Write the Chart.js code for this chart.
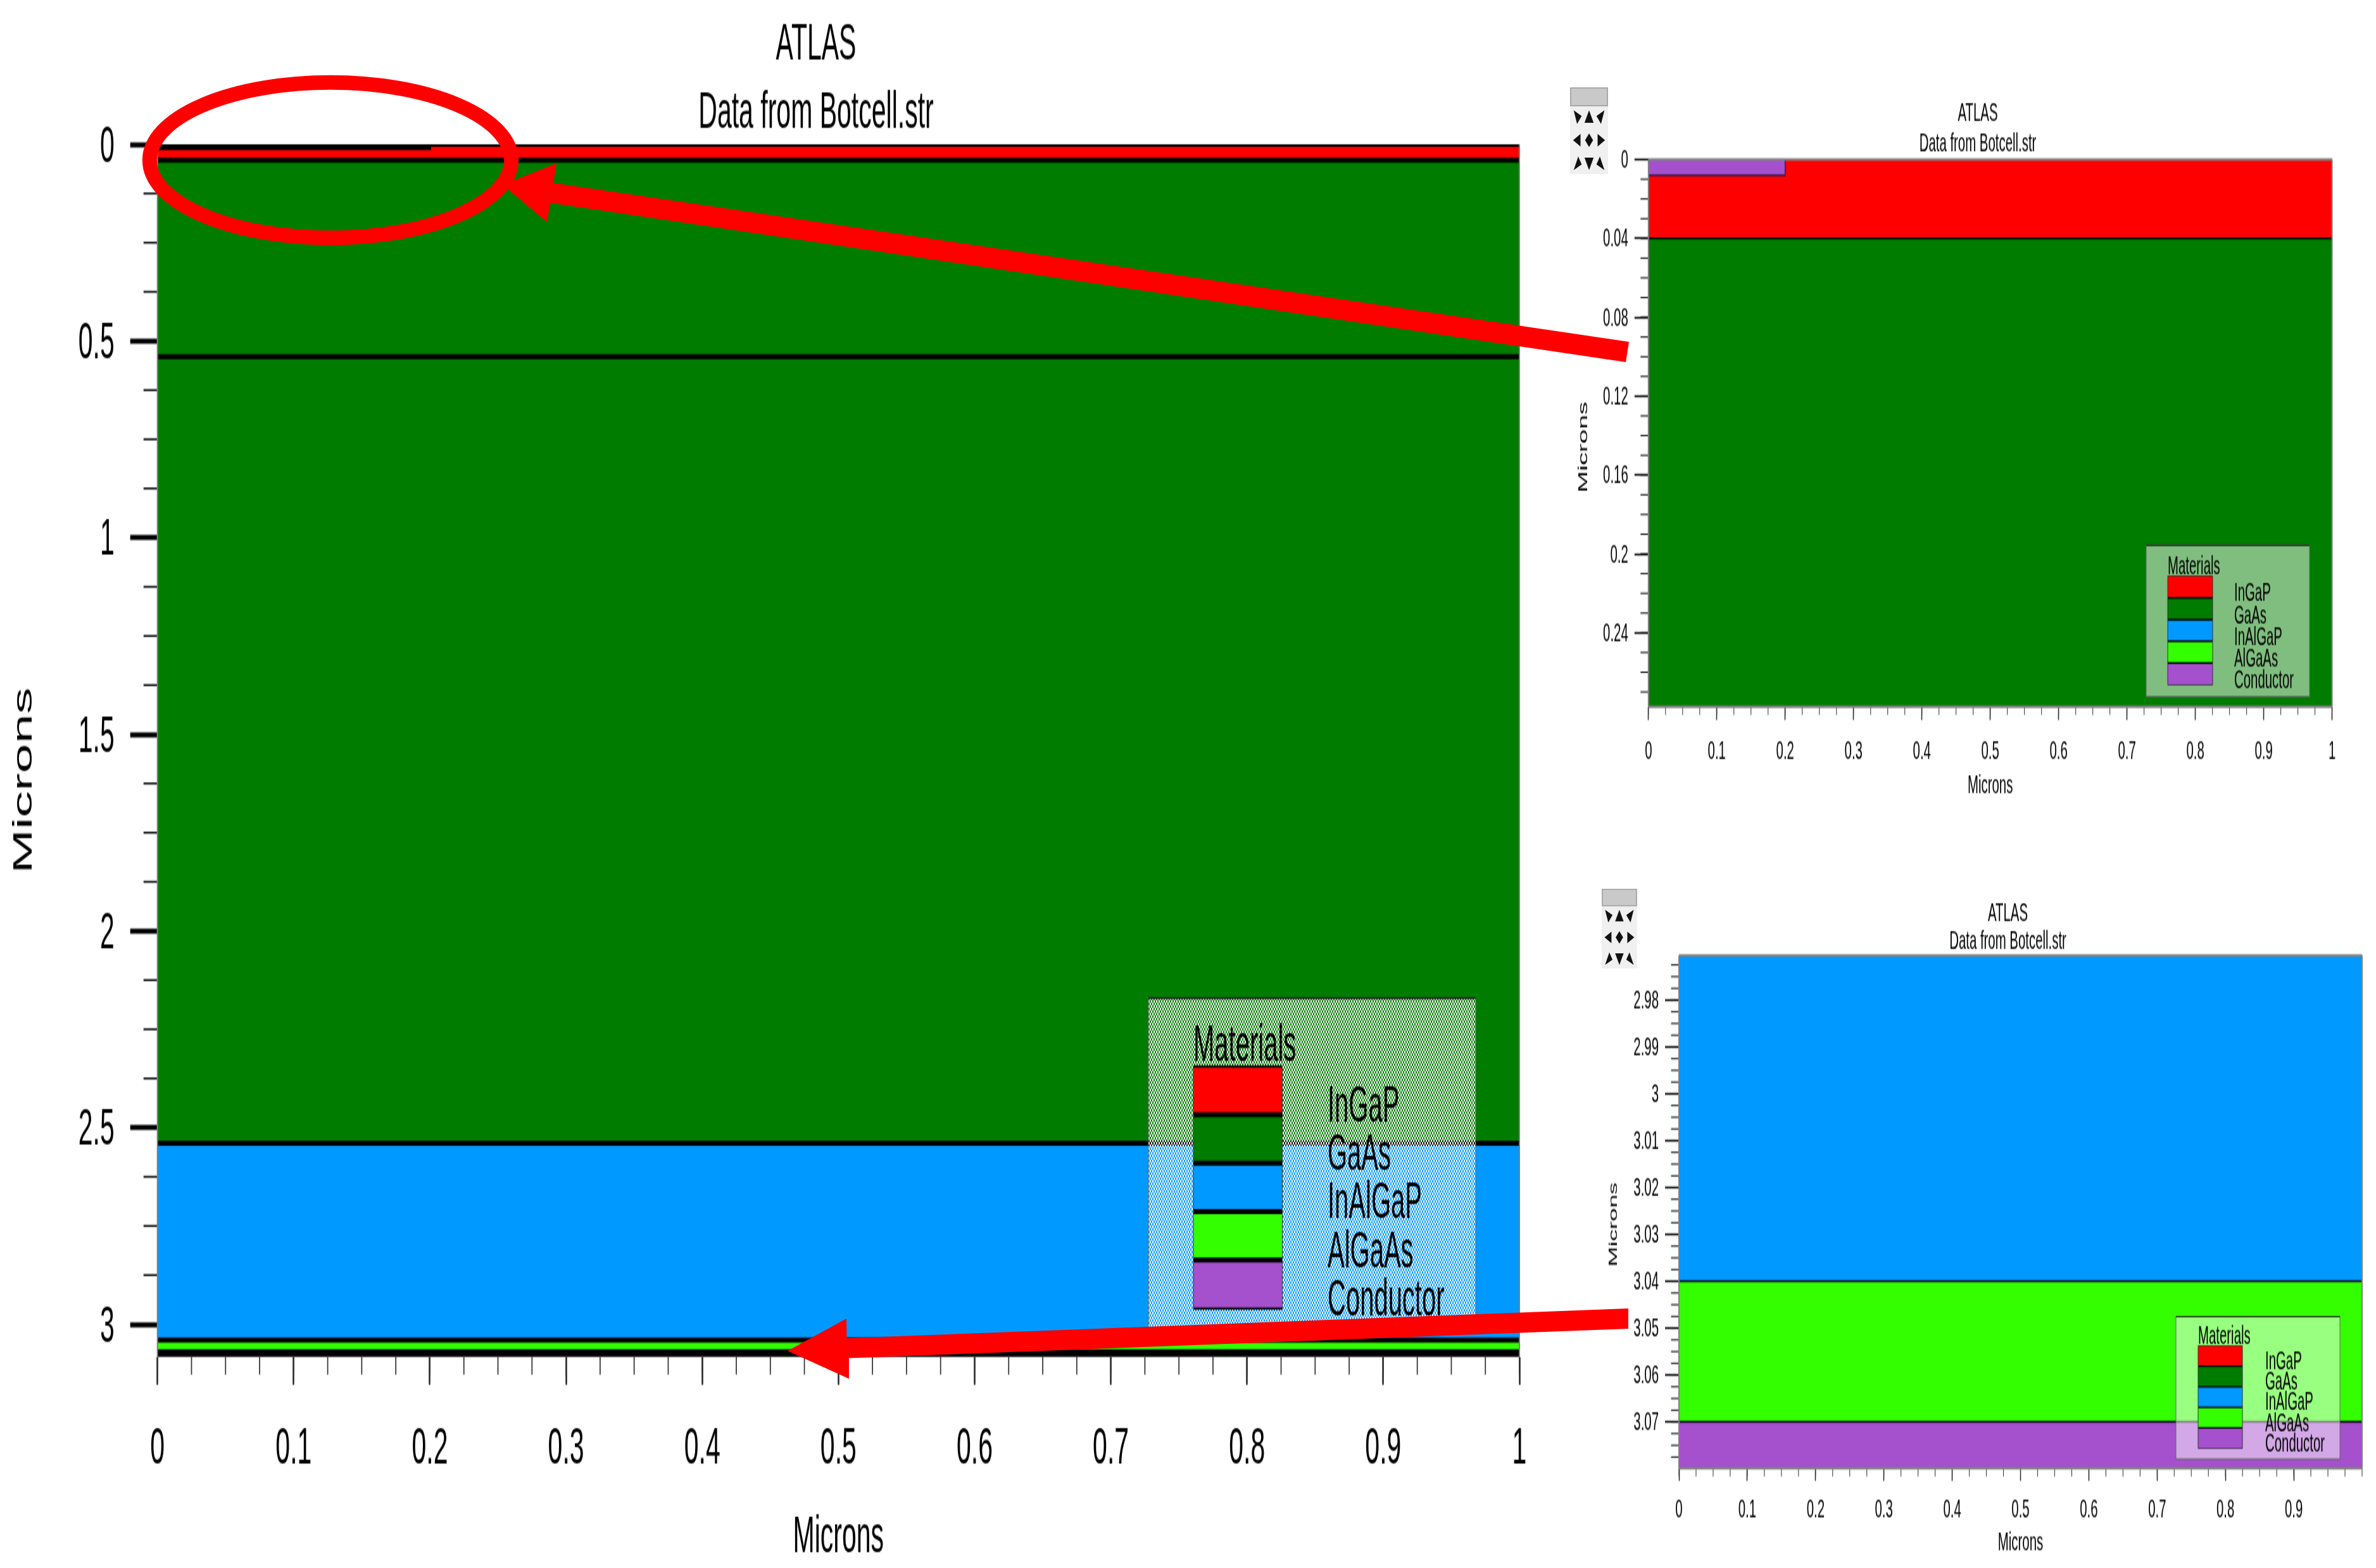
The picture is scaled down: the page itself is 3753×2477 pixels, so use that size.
<!DOCTYPE html>
<html>
<head>
<meta charset="utf-8">
<title>ATLAS</title>
<script src="https://cdn.jsdelivr.net/npm/chart.js@4"></script>
<style>
  html, body { margin: 0; padding: 0; background: #fff; width: 3753px; height: 2477px; overflow: hidden; }
  canvas { position: absolute; display: block; transform-origin: 0 0; }
  #overlay { left: 0; top: 0; z-index: 10; pointer-events: none; }
</style>
</head>
<body>
<canvas id="mainChart"></canvas>
<canvas id="topChart"></canvas>
<canvas id="bottomChart"></canvas>
<canvas id="overlay" width="3753" height="2477"></canvas>
<script>
// materials and their colours
const materials = ['InGaP', 'GaAs', 'InAlGaP', 'AlGaAs', 'Conductor'];
const materialColors = ['#ff0000', '#007c00', '#0099ff', '#33ff00', '#a550cc'];

// layer stack, depth in microns
const layerTops = [0, 0.04, 2.54, 3.04, 3.07];
const layerBottoms = [0.04, 2.54, 3.04, 3.07, 3.08];

// top contact, 0.2 wide and 0.008 deep
const contactX = [0, 0.2];
const contactY = [0, 0.008];

// black lines between the layers
const mainInterfaces = [0, 0.04, 0.54, 2.54, 3.04, 3.07, 3.08];
const topInterfaces = [0.04];
const bottomInterfaces = [3.04, 3.07];

// tick labels
const xTicks = [0, 0.1, 0.2, 0.3, 0.4, 0.5, 0.6, 0.7, 0.8, 0.9, 1];
const xTicksBottom = [0, 0.1, 0.2, 0.3, 0.4, 0.5, 0.6, 0.7, 0.8, 0.9];
const yTicksMain = [0, 0.5, 1, 1.5, 2, 2.5, 3];
const yTicksTop = [0, 0.04, 0.08, 0.12, 0.16, 0.2, 0.24];
const yTicksBottom = [2.98, 2.99, 3, 3.01, 3.02, 3.03, 3.04, 3.05, 3.06, 3.07];

// the picture is stretched 2x in height, so every chart is drawn at half height
const STRETCH = 2;

// all positions below are in page pixels
const panels = [
  {
    id: 'mainChart', left: 0, top: 0, width: 2578, bottom: 2477,
    plot: { left: 248.7, right: 2400, top: 228, bottom: 2142.6 }, titleCenter: 1289,
    yMin: 0, yMax: 3.083, yTicks: yTicksMain, yMinor: 0.125, xTicks: xTicks, interfaces: mainInterfaces,
    font: 41, titleLine: 54, titlePad: 6, titleShift: 2.5, yLabelShift: 2.5, tickLabelPad: { x: 26, y: 25 },
    xTick: { major: 22, minor: 14, width: 2.5 }, yTick: { major: 43, minor: 22, width: 4, minorWidth: 1.5 },
    lineWidth: 4, contactColor: '#000', frame: ['left', 'right'],
    yTitle: { x: 50, y: 1233, font: 42 },
    legend: {
      box: [1814, 1577, 2331, 2100], swatch: [1885, 2025.5], swatchTop: 1684.5, step: 76.5, sep: 4, edge: 1.75,
      boxTop: 1.5, hatch: true,
      textX: 2097, baselines: [1772, 1848, 1924, 2001, 2078], head: [1885, 1675], font: 40
    }
  },
  {
    id: 'topChart', left: 2470, top: 152.5, width: 1308, bottom: 1266.5,
    plot: { left: 2603.8, right: 3683.6, top: 251.5, bottom: 1116 }, titleCenter: 3124,
    yMin: 0, yMax: 0.2775, yTicks: yTicksTop, yMinor: 0.01, xTicks: xTicks, interfaces: topInterfaces,
    font: 20.4, titleLine: 24, titlePad: 1.5, titleShift: 0, yLabelShift: 1, tickLabelPad: { x: 13, y: 10 },
    xTick: { major: 10.5, minor: 6.5, width: 1.5 }, yTick: { major: 22, minor: 12.5, width: 1.5, minorWidth: 1 },
    lineWidth: 1.5, contactColor: '#3a1a4a', frame: ['left', 'right', 'top', 'bottom'],
    yTitle: { x: 2506.5, y: 706, font: 20.5 },
    legend: {
      box: [3390, 861, 3648, 1100], swatch: [3424, 3495], swatchTop: 909.5, step: 34.4, sep: 1.5, edge: 0.5,
      boxTop: 1, hatch: false,
      textX: 3529, baselines: [949, 984, 1018, 1053, 1087], head: [3424, 907], font: 20.4
    }
  },
  {
    id: 'bottomChart', left: 2500, top: 1419, width: 1343, bottom: 2462.5,
    plot: { left: 2652, right: 3731, top: 1509.5, bottom: 2319 }, titleCenter: 3171.5,
    yMin: 2.9705, yMax: 3.0799, yTicks: yTicksBottom, yMinor: 0.0025, xTicks: xTicksBottom, interfaces: bottomInterfaces,
    font: 20.4, titleLine: 22, titlePad: 1.25, titleShift: 0, yLabelShift: 1, tickLabelPad: { x: 11, y: 10 },
    xTick: { major: 10, minor: 6.5, width: 1.5 }, yTick: { major: 22, minor: 12.5, width: 1.5, minorWidth: 1 },
    lineWidth: 1.5, contactColor: '#3a1a4a', frame: ['left', 'right', 'top', 'bottom'],
    yTitle: { x: 2554, y: 1934.6, font: 19 },
    legend: {
      box: [3437, 2080, 3696, 2305], swatch: [3472, 3542], swatchTop: 2126, step: 32.4, sep: 1.2, edge: 0.5,
      boxTop: 1, hatch: false,
      textX: 3578, baselines: [2162, 2195, 2227, 2260, 2293], head: [3472, 2122], font: 20.4
    }
  }
];

const FONT = '"Liberation Sans", Arial, sans-serif';

// fine white checker used by the big legend box
function checker(ctx) {
  const tile = document.createElement('canvas');
  tile.width = tile.height = 4;
  const t = tile.getContext('2d');
  t.fillStyle = '#fff';
  t.fillRect(0, 0, 2, 2);
  t.fillRect(2, 2, 2, 2);
  return ctx.createPattern(tile, 'repeat');
}

// short ticks, the long ones come from the axis itself
const minorTicks = {
  id: 'minorTicks',
  afterDraw(chart, args, opts) {
    const c = chart.ctx, a = chart.chartArea, p = opts.panel;
    c.save();
    c.strokeStyle = '#333';
    c.lineWidth = p.xTick.width * 0.7;
    for (let k = 0; k <= 40; k++) {
      const x = chart.scales.x.getPixelForValue(k * 0.025);
      c.beginPath(); c.moveTo(x, a.bottom); c.lineTo(x, a.bottom + p.xTick.minor); c.stroke();
    }
    c.strokeStyle = '#000';
    c.lineWidth = p.yTick.minorWidth;
    const yScale = chart.scales.y;
    for (let k = Math.ceil(p.yMin / p.yMinor); k * p.yMinor <= p.yMax; k++) {
      const y = yScale.getPixelForValue(k * p.yMinor);
      c.beginPath(); c.moveTo(a.left, y); c.lineTo(a.left - p.yTick.minor, y); c.stroke();
    }
    c.restore();
  }
};

// the title is off centre in the reference, and the y labels sit a little lower than canvas 'middle'
const nudges = {
  id: 'nudges',
  afterLayout(chart, args, opts) {
    const p = opts.panel, y = chart.scales.y, t = chart.titleBlock;
    t.top += p.titleShift;
    t.left = 2 * (p.titleCenter - p.left) - t.right;
    if (!y.shifted) {
      const draw = y.drawLabels;
      y.drawLabels = function (area) {
        chart.ctx.save();
        chart.ctx.translate(0, p.yLabelShift);
        draw.call(this, area);
        chart.ctx.restore();
      };
      y.shifted = true;
    }
  }
};

// grey frame, rotated y title and the materials box
const panelDecor = {
  id: 'panelDecor',
  afterDraw(chart, args, opts) {
    const c = chart.ctx, a = chart.chartArea, p = opts.panel, lg = p.legend;
    const px = (X) => X - p.left;
    const py = (Y) => (Y - p.top) / STRETCH;

    c.save();
    c.strokeStyle = '#808080';
    c.lineWidth = 2;
    const sides = { left: [a.left, a.top, a.left, a.bottom], right: [a.right, a.top, a.right, a.bottom],
      top: [a.left, a.top, a.right, a.top], bottom: [a.left, a.bottom, a.right, a.bottom] };
    p.frame.forEach((s) => {
      const l = sides[s];
      c.beginPath(); c.moveTo(l[0], l[1]); c.lineTo(l[2], l[3]); c.stroke();
    });

    c.fillStyle = lg.hatch ? checker(c) : 'rgba(255,255,255,0.5)';
    const bx = px(lg.box[0]), by = py(lg.box[1]), bw = lg.box[2] - lg.box[0], bh = (lg.box[3] - lg.box[1]) / STRETCH;
    c.fillRect(bx, by, bw, bh);
    c.strokeStyle = '#666';
    c.lineWidth = 1;
    c.strokeRect(bx, by, bw, bh);
    c.strokeStyle = '#222';
    c.lineWidth = lg.boxTop;
    c.beginPath(); c.moveTo(bx, by); c.lineTo(bx + bw, by); c.stroke();

    const sx = px(lg.swatch[0]), sw = lg.swatch[1] - lg.swatch[0], st = lg.step / STRETCH;
    const sTop = py(lg.swatchTop), count = materials.length;
    materials.forEach((m, i) => {
      c.fillStyle = materialColors[i];
      c.fillRect(sx, sTop + i * st, sw, st);
    });
    c.strokeStyle = '#000';
    for (let i = 0; i <= count; i++) {
      const y = sTop + i * st;
      c.lineWidth = i === 0 || i === count ? lg.edge : lg.sep;
      c.beginPath(); c.moveTo(sx, y); c.lineTo(sx + sw, y); c.stroke();
    }
    c.strokeStyle = '#333';
    c.lineWidth = 1;
    [sx, sx + sw].forEach((x) => {
      c.beginPath(); c.moveTo(x, sTop); c.lineTo(x, sTop + count * st); c.stroke();
    });

    c.fillStyle = '#000';
    c.font = lg.font + 'px ' + FONT;
    c.textBaseline = 'alphabetic';
    c.textAlign = 'left';
    c.fillText('Materials', px(lg.head[0]), py(lg.head[1]));
    materials.forEach((m, i) => c.fillText(m, px(lg.textX), py(lg.baselines[i])));

    c.translate(px(p.yTitle.x), py(p.yTitle.y));
    c.rotate(-Math.PI / 2);
    c.textAlign = 'center';
    c.font = p.yTitle.font + 'px ' + FONT;
    c.fillText('Microns', 0, 0);
    c.restore();
  }
};

function rect(x0, x1, y0, y1) {
  return [{ x: x0, y: y0 }, { x: x1, y: y0 }, { x: x1, y: y1 }, { x: x0, y: y1 }];
}

function makePanel(p) {
  const canvas = document.getElementById(p.id);
  canvas.width = p.width;
  canvas.height = Math.round((p.bottom - p.top) / STRETCH);
  canvas.style.left = p.left + 'px';
  canvas.style.top = p.top + 'px';
  canvas.style.transform = 'scaleY(' + STRETCH + ')';

  const datasets = [];
  // first dataset ends up on top
  p.interfaces.forEach((d) => datasets.push({
    data: [{ x: 0, y: d }, { x: 1, y: d }], showLine: true, pointRadius: 0,
    borderColor: '#000', borderWidth: p.lineWidth, clip: 0
  }));
  datasets.push({
    data: [{ x: contactX[0], y: contactY[1] }, { x: contactX[1], y: contactY[1] }, { x: contactX[1], y: contactY[0] }],
    showLine: true, pointRadius: 0, borderColor: p.contactColor, borderWidth: p.lineWidth, clip: 0
  });
  datasets.push({
    label: materials[4], data: rect(contactX[0], contactX[1], contactY[0], contactY[1]),
    showLine: true, pointRadius: 0, borderWidth: 0, fill: 'shape', backgroundColor: materialColors[4]
  });
  materials.forEach((m, i) => datasets.push({
    label: m, data: rect(0, 1, layerTops[i], layerBottoms[i]),
    showLine: true, pointRadius: 0, borderWidth: 0, fill: 'shape', backgroundColor: materialColors[i]
  }));

  const tickFont = { family: FONT, size: p.font };

  return new Chart(canvas, {
    type: 'scatter',
    data: { datasets: datasets },
    plugins: [nudges, minorTicks, panelDecor],
    options: {
      responsive: false,
      animation: false,
      devicePixelRatio: 1,
      layout: { padding: { right: p.left + p.width - p.plot.right } },
      plugins: {
        legend: { display: false },
        tooltip: { enabled: false },
        title: {
          display: true,
          text: ['ATLAS', 'Data from Botcell.str'],
          color: '#000',
          font: { family: FONT, size: p.font, weight: 'normal', lineHeight: p.titleLine / p.font },
          padding: { top: p.titlePad, bottom: 0 }
        },
        nudges: { panel: p },
        minorTicks: { panel: p },
        panelDecor: { panel: p }
      },
      scales: {
        x: {
          type: 'linear', min: 0, max: 1,
          afterBuildTicks(scale) { scale.ticks = p.xTicks.map((v) => ({ value: v })); },
          afterFit(scale) { scale.height = (p.bottom - p.plot.bottom) / STRETCH; },
          ticks: { color: '#000', font: tickFont, padding: p.tickLabelPad.x, autoSkip: false, maxRotation: 0, callback: (v) => String(v) },
          grid: { drawOnChartArea: false, tickLength: p.xTick.major, tickWidth: p.xTick.width, tickColor: '#222' },
          border: { display: false },
          title: { display: true, text: 'Microns', color: '#000', font: { family: FONT, size: p.font }, padding: 0 }
        },
        y: {
          type: 'linear', reverse: true, min: p.yMin, max: p.yMax,
          afterBuildTicks(scale) { scale.ticks = p.yTicks.map((v) => ({ value: v })); },
          afterFit(scale) { scale.width = p.plot.left - p.left; },
          ticks: { color: '#000', font: tickFont, padding: p.tickLabelPad.y, autoSkip: false, maxRotation: 0, callback: (v) => String(v) },
          grid: { drawOnChartArea: false, tickLength: p.yTick.major, tickWidth: p.yTick.width, tickColor: '#000' },
          border: { display: false }
        }
      }
    }
  });
}

panels.forEach(makePanel);

// hand drawn callouts and toolbar icons sit on top of everything, not stretched
const ov = document.getElementById('overlay').getContext('2d');

function poly(pts) {
  ov.beginPath();
  pts.forEach((q, i) => (i ? ov.lineTo(q[0], q[1]) : ov.moveTo(q[0], q[1])));
  ov.closePath();
  ov.fill();
}

ov.strokeStyle = '#ff0000';
ov.lineWidth = 23;
ov.beginPath();
ov.ellipse(522, 253, 285.7, 122.7, 0, 0, Math.PI * 2);
ov.stroke();

ov.fillStyle = '#ff0000';
poly([[794, 292], [879, 258], [874, 289], [2573, 540], [2568, 572], [869, 320.5], [864, 351]]);
poly([[1244, 2134], [1337, 2083], [1337.5, 2114], [2572, 2067], [2572, 2099], [1341, 2145.6], [1341, 2178]]);

const iconShapes = [
  [[-7, -12], [7, -2], [-1, 12]], [[0, -12], [8, 10], [-8, 10]], [[7, -12], [1, 12], [-7, -2]],
  [[-8, 0], [5, -11], [5, 11]], [[0, -12], [7, 0], [0, 12], [-7, 0]], [[8, 0], [-5, -11], [-5, 11]],
  [[-7, 12], [1, -12], [7, 2]], [[0, 12], [-8, -10], [8, -10]], [[7, 12], [-7, 2], [-1, -12]]
];

function toolbar(x, y, sx, sy) {
  ov.save();
  ov.translate(x, y);
  ov.scale(sx, sy);
  ov.fillStyle = '#f0f0f0';
  ov.fillRect(0, 30, 60, 107);
  ov.fillStyle = '#c9c9c9';
  ov.fillRect(0, 0, 60, 30);
  ov.strokeStyle = '#a8a8a8';
  ov.lineWidth = 2;
  ov.strokeRect(1, 1, 58, 28);
  ov.fillStyle = '#111';
  iconShapes.forEach((s, i) => {
    const cx = 12 + (i % 3) * 18, cy = 47 + Math.floor(i / 3) * 36.5;
    poly(s.map((q) => [cx + q[0] * 0.9, cy + q[1] * 0.9]));
  });
  ov.restore();
}

toolbar(2480, 138, 1, 1);
toolbar(2530, 1404, 0.93, 0.92);
</script>
</body>
</html>
